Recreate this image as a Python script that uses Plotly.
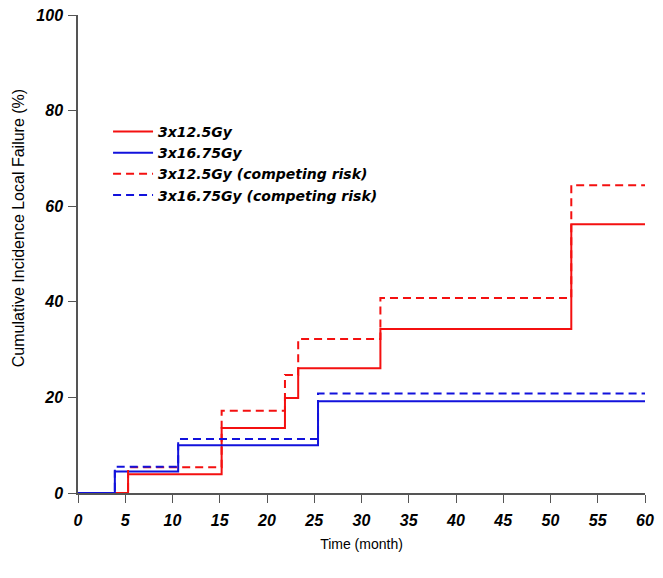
import plotly.graph_objects as go

# step times (month) and cumulative incidence (%)
t_125 = [0, 5.3, 15.2, 21.9, 23.3, 32.0, 52.2, 60]
ci_125 = [0, 3.9, 13.6, 19.9, 26.1, 34.3, 56.2, 56.2]

t_1675 = [0, 3.9, 10.6, 25.4, 60]
ci_1675 = [0, 4.5, 10.0, 19.2, 19.2]

t_125_cr = [0, 5.3, 15.2, 21.9, 23.3, 32.0, 52.2, 60]
ci_125_cr = [0, 5.4, 17.2, 24.7, 32.2, 40.8, 64.4, 64.4]

t_1675_cr = [0, 3.9, 10.6, 25.4, 60]
ci_1675_cr = [0, 5.5, 11.3, 20.8, 20.8]

x_ticks = list(range(0, 61, 5))
y_ticks = [0, 20, 40, 60, 80, 100]

RED = '#f41010'
BLUE = '#1212dc'
FONT = 'Liberation Sans, Arial, sans-serif'

fig = go.Figure()
fig.add_trace(go.Scatter(x=t_125, y=ci_125, mode='lines', line_shape='hv',
                         line=dict(color=RED, width=2), name='3x12.5Gy'))
fig.add_trace(go.Scatter(x=t_1675, y=ci_1675, mode='lines', line_shape='hv',
                         line=dict(color=BLUE, width=2), name='3x16.75Gy'))
fig.add_trace(go.Scatter(x=t_125_cr, y=ci_125_cr, mode='lines', line_shape='hv',
                         line=dict(color=RED, width=2, dash='8px,5px'),
                         name='3x12.5Gy (competing risk)'))
fig.add_trace(go.Scatter(x=t_1675_cr, y=ci_1675_cr, mode='lines', line_shape='hv',
                         line=dict(color=BLUE, width=2, dash='8px,5px'),
                         name='3x16.75Gy (competing risk)'))

tickfont = dict(family=FONT, size=16, color='black', weight='bold', style='italic')

fig.update_xaxes(range=[0, 60], tickvals=x_ticks, ticks='outside', ticklen=8,
                 tickcolor='#555555', showline=True, linecolor='#555555', linewidth=1.5,
                 showgrid=False, zeroline=False, tickfont=tickfont, automargin=False,
                 ticklabelstandoff=4, ticklabeloverflow='allow',
                 title=dict(text='Time (month)', font=dict(family=FONT, size=14, color='black'),
                            standoff=11))
fig.update_yaxes(range=[0, 100], tickvals=y_ticks, ticks='outside', ticklen=8,
                 tickcolor='#555555', showline=True, linecolor='#555555', linewidth=1.5,
                 showgrid=False, zeroline=False, tickfont=tickfont, automargin=False,
                 ticklabelstandoff=2, ticklabeloverflow='allow')

# y title as annotation: in the original it sits a bit above the axis middle
fig.add_annotation(text='Cumulative Incidence Local Failure (%)', textangle=-90,
                   xref='paper', yref='paper', x=0, y=0.554, xanchor='center',
                   yanchor='middle', xshift=-60, showarrow=False,
                   font=dict(family=FONT, size=16, color='black'))

# page body has an 8px margin, so the figure is a bit smaller than the window
fig.update_layout(
    width=647, height=562,
    margin=dict(l=70, r=10, t=7, b=77),
    plot_bgcolor='white', paper_bgcolor='white',
    legend=dict(x=0.053, y=0.789, xanchor='left', yanchor='top', itemwidth=40,
                bgcolor='rgba(0,0,0,0)', tracegroupgap=0,
                font=dict(family='DejaVu Sans, sans-serif', size=14, color='black',
                          weight='bold', style='italic')),
)

fig.write_html("out.html")
